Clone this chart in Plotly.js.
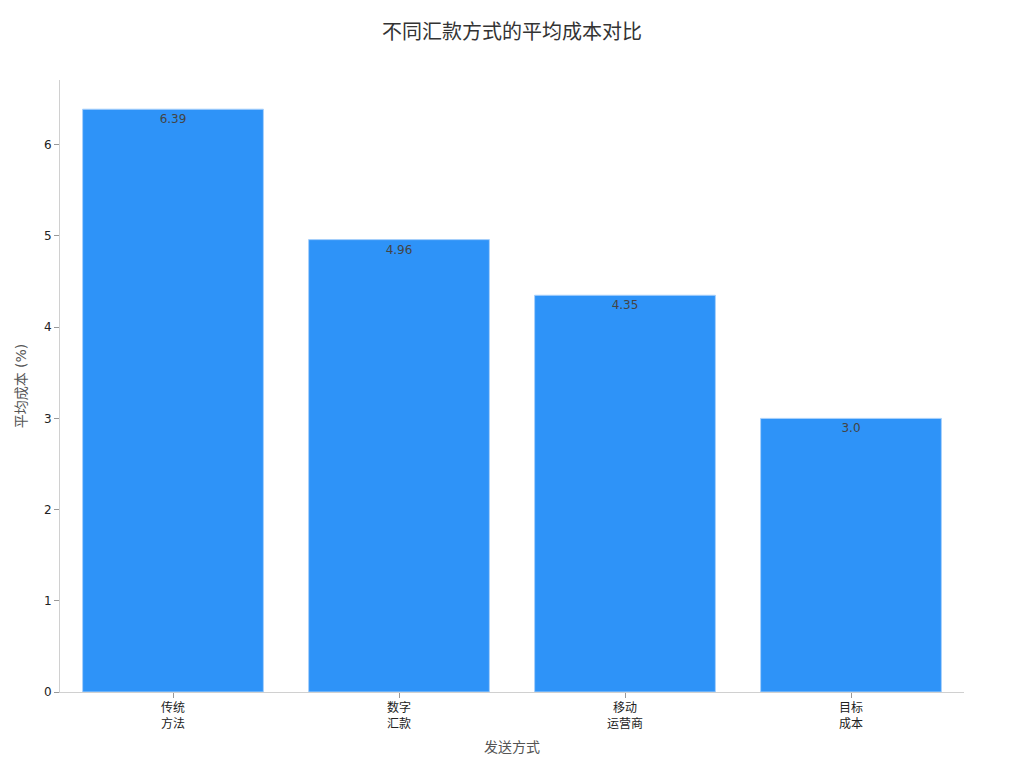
<!DOCTYPE html>
<html>
<head>
<meta charset="utf-8">
<script src="https://cdn.plot.ly/plotly-3.0.1.min.js"></script>
<style>
  html, body { margin: 0; padding: 0; background: #fff; }
  #chart { width: 1024px; height: 768px; }
</style>
</head>
<body>
<div id="chart"></div>
<script>
// remittance cost by sending method
const methods = ['传统<br>方法', '数字<br>汇款', '移动<br>运营商', '目标<br>成本'];
const avgCost = [6.39, 4.96, 4.35, 3.0];
const costLabels = ['6.39', '4.96', '4.35', '3.0'];

const font = '"DejaVu Sans", "Noto Sans CJK SC", sans-serif';

const trace = {
    x: methods,
    y: avgCost,
    type: 'bar',
    text: costLabels,
    textposition: 'inside',
    insidetextanchor: 'end',
    textfont: { color: '#444', size: 12, family: font },
    marker: {
        color: '#2E93F8',
        line: { color: '#a8d0fb', width: 1 }
    },
    hoverinfo: 'x+y'
};

const layout = {
    width: 1024,
    height: 768,
    font: { family: font, color: '#333' },
    title: {
        text: '不同汇款方式的平均成本对比',
        font: { size: 20, color: '#333', family: font },
        x: 0.5,
        y: 0.967
    },
    xaxis: {
        title: { text: '发送方式', font: { size: 14, color: '#555' }, standoff: 12 },
        tickfont: { size: 12, color: '#222' },
        showline: true,
        linecolor: '#d0d0d0',
        ticks: 'outside',
        ticklen: 5,
        tickcolor: '#999'
    },
    yaxis: {
        title: { text: '平均成本 (%)', font: { size: 14, color: '#555' }, standoff: 14 },
        tickfont: { size: 12, color: '#222' },
        range: [0, 6.71],
        dtick: 1,
        showline: true,
        linecolor: '#d0d0d0',
        ticks: 'outside',
        ticklen: 5,
        tickcolor: '#999',
        showgrid: false,
        zeroline: false
    },
    bargap: 0.2,
    margin: { l: 60, r: 60, t: 80, b: 76 },
    plot_bgcolor: '#fff',
    paper_bgcolor: '#fff',
    showlegend: false
};

Plotly.newPlot('chart', [trace], layout, { displayModeBar: false });
</script>
</body>
</html>
